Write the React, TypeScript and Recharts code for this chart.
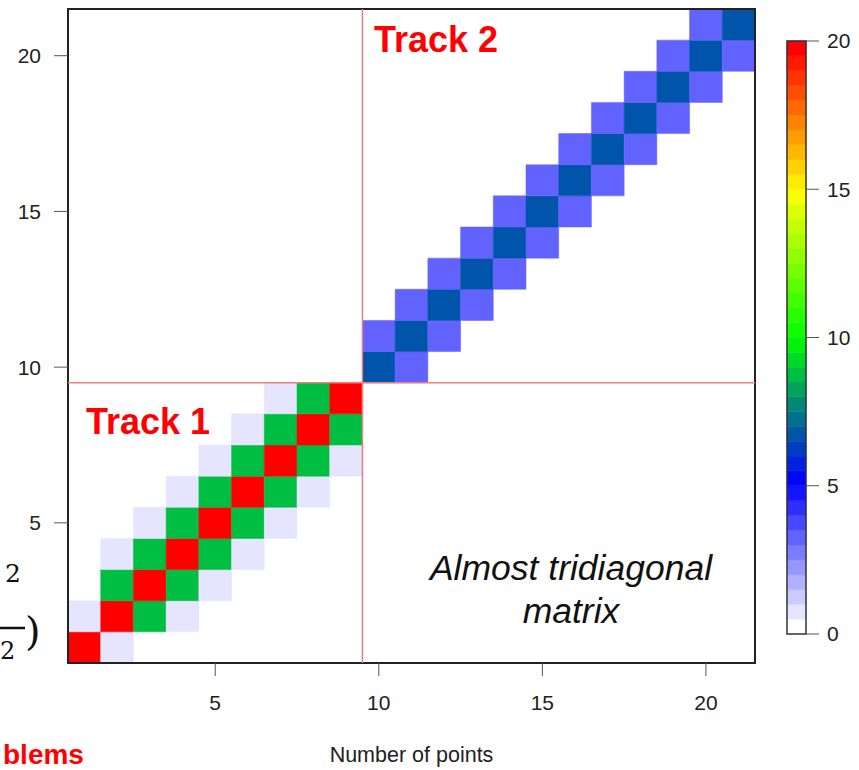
import React from 'react'
import {
	ReferenceArea,
	ReferenceLine,
	Scatter,
	ScatterChart,
	XAxis,
	YAxis,
} from 'recharts'

const xTicks = [5, 10, 15, 20]
const yTicks = [5, 10, 15, 20]
const scaleTicks = [0, 5, 10, 15, 20]

// track 1 block: rows y = 1..9, columns x = 1..9
const track1 = [
	[20, 0.6, 0, 0, 0, 0, 0, 0, 0],
	[0.6, 20, 8.6, 0.6, 0, 0, 0, 0, 0],
	[0, 8.6, 20, 8.6, 0.6, 0, 0, 0, 0],
	[0, 0.6, 8.6, 20, 8.6, 0.6, 0, 0, 0],
	[0, 0, 0.6, 8.6, 20, 8.6, 0.6, 0, 0],
	[0, 0, 0, 0.6, 8.6, 20, 8.6, 0.6, 0],
	[0, 0, 0, 0, 0.6, 8.6, 20, 8.6, 0.6],
	[0, 0, 0, 0, 0, 0.6, 8.6, 20, 8.6],
	[0, 0, 0, 0, 0, 0, 0.6, 8.6, 20],
]

// track 2 block: rows y = 10..21, columns x = 10..21
const track2 = [
	[6.7, 3.2, 0, 0, 0, 0, 0, 0, 0, 0, 0, 0],
	[3.2, 6.7, 3.2, 0, 0, 0, 0, 0, 0, 0, 0, 0],
	[0, 3.2, 6.7, 3.2, 0, 0, 0, 0, 0, 0, 0, 0],
	[0, 0, 3.2, 6.7, 3.2, 0, 0, 0, 0, 0, 0, 0],
	[0, 0, 0, 3.2, 6.7, 3.2, 0, 0, 0, 0, 0, 0],
	[0, 0, 0, 0, 3.2, 6.7, 3.2, 0, 0, 0, 0, 0],
	[0, 0, 0, 0, 0, 3.2, 6.7, 3.2, 0, 0, 0, 0],
	[0, 0, 0, 0, 0, 0, 3.2, 6.7, 3.2, 0, 0, 0],
	[0, 0, 0, 0, 0, 0, 0, 3.2, 6.7, 3.2, 0, 0],
	[0, 0, 0, 0, 0, 0, 0, 0, 3.2, 6.7, 3.2, 0],
	[0, 0, 0, 0, 0, 0, 0, 0, 0, 3.2, 6.7, 3.2],
	[0, 0, 0, 0, 0, 0, 0, 0, 0, 0, 3.2, 6.7],
]

const splitAt = 9.5
const paletteStops = ['#ffffff', '#0000ff', '#00ff00', '#ffff00', '#ff0000']
const zMax = 20
const nBands = 40

const font = '"Liberation Sans", Arial, sans-serif'

const hex = (c: string) => [1, 3, 5].map((i) => parseInt(c.slice(i, i + 2), 16))

const ramp = (t: number) => {
	const n = paletteStops.length - 1
	const seg = Math.min(n - 1, Math.floor(t * n))
	const f = t * n - seg
	const a = hex(paletteStops[seg])
	const b = hex(paletteStops[seg + 1])
	return `rgb(${a.map((v, i) => Math.round(v + (b[i] - v) * f)).join(',')})`
}

const bandColors = Array.from({ length: nBands }, (_, i) => ramp(i / (nBands - 1)))
const bandSize = zMax / nBands
const colorOf = (v: number) =>
	bandColors[Math.min(nBands - 1, Math.floor(v / bandSize))]

const toCells = (block: number[][], start: number) =>
	block.flatMap((row, r) =>
		row
			.map((v, c) => ({ x: start + c, y: start + r, v }))
			.filter((d) => d.v > 0),
	)

const cells = [...toCells(track1, 1), ...toCells(track2, 10)]

const tickText = { fill: '#222', fontSize: 21, fontFamily: font }

export default function App() {
	return (
		<div
			style={{
				position: 'absolute',
				left: 0,
				top: 0,
				width: 859,
				height: 770,
				overflow: 'hidden',
				background: '#fff',
				fontFamily: font,
			}}
		>
			<div style={{ position: 'absolute', left: 0, top: 0 }}>
				<ScatterChart
					width={859}
					height={770}
					margin={{ top: 9, right: 104, bottom: 7, left: 0 }}
				>
					<XAxis
						type='number'
						dataKey='x'
						domain={[0.5, 21.5]}
						ticks={xTicks}
						interval={0}
						allowDataOverflow
						axisLine={false}
						tickSize={13}
						tickMargin={19}
						tick={tickText}
						tickLine={{ stroke: '#555' }}
						height={100}
						label={{
							value: 'Number of points',
							position: 'insideBottom',
							offset: 1,
							fill: '#222',
							fontSize: 21.5,
							fontFamily: font,
						}}
					/>
					<YAxis
						type='number'
						dataKey='y'
						domain={[0.5, 21.5]}
						ticks={yTicks}
						interval={0}
						allowDataOverflow
						axisLine={false}
						tickSize={14}
						tickMargin={13}
						tick={tickText}
						tickLine={{ stroke: '#555' }}
						width={68}
					/>
					<Scatter data={cells} fillOpacity={0} isAnimationActive={false} />
					{cells.map((d) => (
						<ReferenceArea
							key={`${d.x}-${d.y}`}
							x1={d.x - 0.5}
							x2={d.x + 0.5}
							y1={d.y - 0.5}
							y2={d.y + 0.5}
							fill={colorOf(d.v)}
							fillOpacity={1}
							stroke={colorOf(d.v)}
							strokeWidth={0.5}
						/>
					))}
					<ReferenceLine x={splitAt} stroke='#f27d7d' strokeWidth={1.5} />
					<ReferenceLine y={splitAt} stroke='#f27d7d' strokeWidth={1.5} />
					<ReferenceArea
						x1={0.5}
						x2={21.5}
						y1={0.5}
						y2={21.5}
						fill='none'
						stroke='#222'
						strokeWidth={2}
					/>
				</ScatterChart>
			</div>

			{/* colour scale */}
			<div style={{ position: 'absolute', left: 0, top: 0 }}>
				<ScatterChart
					width={859}
					height={770}
					margin={{ top: 41, right: 0, bottom: 136, left: 787 }}
				>
					<XAxis type='number' dataKey='x' domain={[0, 1]} hide />
					<YAxis
						type='number'
						dataKey='y'
						orientation='right'
						domain={[0, zMax]}
						ticks={scaleTicks}
						interval={0}
						axisLine={false}
						tickSize={13}
						tickMargin={8}
						tick={tickText}
						tickLine={{ stroke: '#555' }}
						width={53}
					/>
					<Scatter
						data={[{ x: 0.5, y: 0 }]}
						fillOpacity={0}
						isAnimationActive={false}
					/>
					{bandColors.map((c, i) => (
						<ReferenceArea
							key={i}
							x1={0}
							x2={1}
							y1={i * bandSize}
							y2={(i + 1) * bandSize}
							fill={c}
							fillOpacity={1}
							stroke={c}
							strokeWidth={0.5}
						/>
					))}
					<ReferenceArea
						x1={0}
						x2={1}
						y1={0}
						y2={zMax}
						fill='none'
						stroke='#333'
						strokeWidth={1.5}
					/>
				</ScatterChart>
			</div>

			<svg
				width={859}
				height={770}
				style={{ position: 'absolute', left: 0, top: 0, pointerEvents: 'none' }}
			>
				<g fontFamily={font} fontWeight='bold' fontSize={36} fill='#ff0000'>
					<text x={374} y={52}>Track 2</text>
					<text x={86} y={434}>Track 1</text>
				</g>
				<g fontFamily={font} fontStyle='italic' fontSize={35.5} fill='#111' textAnchor='middle'>
					<text x={571} y={580}>Almost tridiagonal</text>
					<text x={571} y={623}>matrix</text>
				</g>
				{/* fragments of the surrounding slide */}
				<g fontFamily='"DejaVu Serif", "Liberation Serif", serif' fill='#111'>
					<text x={5} y={582} fontSize={25}>2</text>
					<text x={0} y={659} fontSize={24}>2</text>
					<text x={25} y={645} fontSize={40}>)</text>
				</g>
				<line x1={0} x2={25} y1={628} y2={628} stroke='#111' strokeWidth={2.5} />
				<text x={3} y={764} fontFamily={font} fontWeight='bold' fontSize={28} fill='#ff0000'>
					blems
				</text>
			</svg>
		</div>
	)
}
